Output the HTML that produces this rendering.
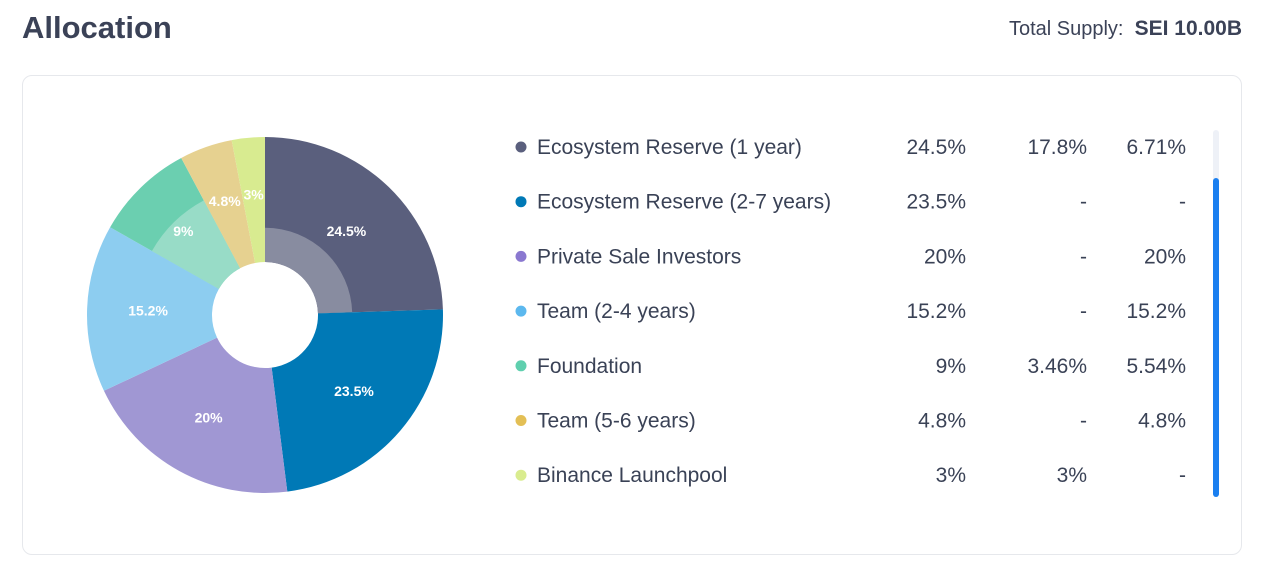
<!DOCTYPE html>
<html><head><meta charset="utf-8"><style>
body{margin:0;width:1267px;height:563px;background:#fff;font-family:"Liberation Sans",sans-serif;position:relative;overflow:hidden;color:#3a4256}
.t{position:absolute}
</style></head><body>
<div class="t" style="left:22px;top:10px;font-size:31px;font-weight:bold;color:#3b4257">Allocation</div>
<div class="t" style="right:25px;top:17px;font-size:20px;color:#3b4257">Total Supply:&nbsp; <b style="font-size:21px">SEI 10.00B</b></div>
<div class="t" style="left:22px;top:75px;width:1218px;height:478px;border:1px solid #e6e8ec;border-radius:10px"></div>
<svg class="t" style="left:0;top:0" width="1267" height="563">
<g id="pie"></g><g id="legend"></g>
<rect x="1213" y="130" width="6" height="367" rx="3" fill="#eef1f7"/>
<rect x="1213" y="178" width="6" height="319" rx="3" fill="#1a7ff0"/>
</svg>
<script>
const names=["Ecosystem Reserve (1 year)","Ecosystem Reserve (2-7 years)","Private Sale Investors","Team (2-4 years)","Foundation","Team (5-6 years)","Binance Launchpool"];
const shares=[24.5,23.5,20,15.2,9,4.8,3];
const unlocked=[17.8,0,0,0,3.46,0,3];
const locked=[6.71,0,20,15.2,5.54,4.8,0];
const shareLabels=["24.5%","23.5%","20%","15.2%","9%","4.8%","3%"];
const unlockedLabels=["17.8%","-","-","-","3.46%","-","3%"];
const lockedLabels=["6.71%","-","20%","15.2%","5.54%","4.8%","-"];
const dark=["#5a5f7d","#0079b6","#a097d3","#8dcdf0","#6bcfb0","#e6d190","#d8eb90"];
const light=["#888ca0","#0079b6","#a097d3","#8dcdf0","#98dcc7","#e6d190","#d8eb90"];
const dots=["#5a5f7d","#0079b6","#8a78d0","#5cb8ee","#5fcfae","#e3bf55","#d9ec8f"];
const NS="http://www.w3.org/2000/svg";
const cx=265,cy=315,R=178,r0=53;
const total=shares.reduce((a,b)=>a+b,0);
function pt(a,r){return [cx+r*Math.sin(a),cy-r*Math.cos(a)];}
function arc(a0,a1,ri,ro){const p1=pt(a0,ro),p2=pt(a1,ro),p3=pt(a1,ri),p4=pt(a0,ri),l=(a1-a0)>Math.PI?1:0;
return `M${p1}A${ro},${ro} 0 ${l} 1 ${p2}L${p3}A${ri},${ri} 0 ${l} 0 ${p4}Z`;}
const pie=document.getElementById('pie');let a=0;
shares.forEach((v,i)=>{const a1=a+v/total*2*Math.PI;
 const p=document.createElementNS(NS,'path');p.setAttribute('d',arc(a,a1,r0,R));p.setAttribute('fill',dark[i]);
 
 
 pie.appendChild(p);
 const frac=v?locked[i]/v:0;
 if(frac>0&&frac<1){const q=document.createElementNS(NS,'path');q.setAttribute('d',arc(a,a1,r0,r0+frac*(R-r0)));q.setAttribute('fill',light[i]);
 
 
 pie.appendChild(q);}
 const m=(a+a1)/2,rr=v<6?121:117,lp=pt(m,rr);
 const t=document.createElementNS(NS,'text');t.setAttribute('x',lp[0]);t.setAttribute('y',lp[1]+5);t.setAttribute('text-anchor','middle');
 t.setAttribute('fill','#fff');t.setAttribute('font-size','14');t.setAttribute('font-weight','bold');t.textContent=shareLabels[i];
 
 
 pie.appendChild(t);a=a1;});
const lg=document.getElementById('legend');
names.forEach((n,i)=>{const y=147+i*54.7;
 const c=document.createElementNS(NS,'circle');c.setAttribute('cx',521);c.setAttribute('cy',y);c.setAttribute('r',5.5);c.setAttribute('fill',dots[i]);
 
 
 lg.appendChild(c);
 const cols=[[537,'start',n],[966,'end',shareLabels[i]],[1087,'end',unlockedLabels[i]],[1186,'end',lockedLabels[i]]];
 cols.forEach(([x,an,s])=>{const t=document.createElementNS(NS,'text');t.setAttribute('x',x);t.setAttribute('y',y+7);t.setAttribute('text-anchor',an);
 t.setAttribute('font-size','21');t.setAttribute('fill','#3a4256');t.textContent=s;
 
 
 lg.appendChild(t);});});
</script>
</body></html>
